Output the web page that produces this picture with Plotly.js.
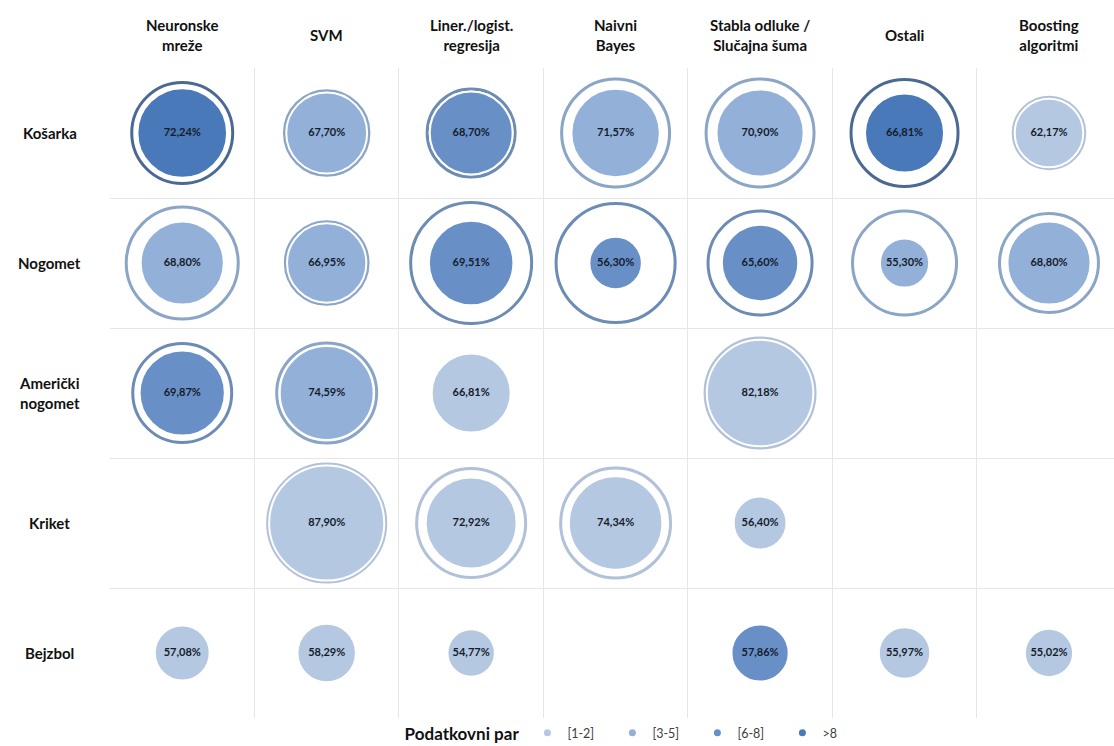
<!DOCTYPE html>
<html>
<head>
<meta charset="utf-8">
<script src="https://cdn.plot.ly/plotly-3.0.1.min.js"></script>
<style>
  html, body { margin: 0; padding: 0; background: #ffffff; }
  #chart { width: 1114px; height: 746px; }
</style>
</head>
<body>
<div id="chart"></div>
<script>
// ---- Data ----
const algoritmi = ['Neuronske<br>mreže', 'SVM', 'Liner./logist.<br>regresija', 'Naivni<br>Bayes',
                   'Stabla odluke /<br>Slučajna šuma', 'Ostali', 'Boosting<br>algoritmi'];
const sportovi = ['Košarka', 'Nogomet', 'Američki<br>nogomet', 'Kriket', 'Bejzbol'];
const klase = ['[1-2]', '[3-5]', '[6-8]', '>8'];

// mean accuracy (%) per sport, by algorithm (null = no study)
const tocnostKosarka  = [72.24, 67.70, 68.70, 71.57, 70.90, 66.81, 62.17];
const tocnostNogomet  = [68.80, 66.95, 69.51, 56.30, 65.60, 55.30, 68.80];
const tocnostAmericki = [69.87, 74.59, 66.81, null, 82.18, null, null];
const tocnostKriket   = [null, 87.90, 72.92, 74.34, 56.40, null, null];
const tocnostBejzbol  = [57.08, 58.29, 54.77, null, 57.86, 55.97, 55.02];

// dataset-pair class per cell
const parKosarka  = ['>8', '[3-5]', '[6-8]', '[3-5]', '[3-5]', '>8', '[1-2]'];
const parNogomet  = ['[3-5]', '[3-5]', '[6-8]', '[6-8]', '[6-8]', '[3-5]', '[3-5]'];
const parAmericki = ['[6-8]', '[3-5]', '[1-2]', null, '[1-2]', null, null];
const parKriket   = [null, '[1-2]', '[1-2]', '[1-2]', '[1-2]', null, null];
const parBejzbol  = ['[1-2]', '[1-2]', '[1-2]', null, '[6-8]', '[1-2]', '[1-2]'];

// outer ring value (%) per cell (estimated from ring size; null = no ring)
const krugKosarka  = [78.7, 69.5, 71.3, 83.1, 83.1, 82.5, 63.4];
const krugNogomet  = [85.8, 68.6, 92.1, 90.7, 80.6, 80.6, 77.5];
const krugAmericki = [77.5, 78.1, null, null, 84.4, null, null];
const krugKriket   = [null, 90.0, 83.8, 84.4, null, null, null];
const krugBejzbol  = [null, null, null, null, null, null, null];

// ---- Styles ----
const fillBoje = ['#b4c8e2', '#92b0d8', '#6890c7', '#4a79b9'];
const prstenBoje = ['#b0c1d8', '#8ba5c6', '#6c8cb4', '#4b6a93'];
const FONT = 'Lato, "Open Sans", sans-serif';
const BASE = 48;          // size baseline (%)
const SIZEREF = 0.006024; // area scaling

const tocnost = [tocnostKosarka, tocnostNogomet, tocnostAmericki, tocnostKriket, tocnostBejzbol];
const parovi  = [parKosarka, parNogomet, parAmericki, parKriket, parBejzbol];
const krugovi = [krugKosarka, krugNogomet, krugAmericki, krugKriket, krugBejzbol];

const inner = {x: [], y: [], s: [], c: [], t: []};
const ring = {x: [], y: [], s: [], c: []};
sportovi.forEach((sp, r) => {
  algoritmi.forEach((al, c) => {
    const v = tocnost[r][c];
    if (v === null) return;
    const k = klase.indexOf(parovi[r][c]);
    inner.x.push(c); inner.y.push(r);
    inner.s.push(v - BASE);
    inner.c.push(fillBoje[k]);
    inner.t.push(v.toFixed(2).replace('.', ',') + '%');
    const g = krugovi[r][c];
    if (g !== null) {
      ring.x.push(c); ring.y.push(r);
      ring.s.push(g - BASE);
      ring.c.push(prstenBoje[k]);
    }
  });
});

const traces = [
  {
    type: 'scatter', mode: 'markers', x: ring.x, y: ring.y, showlegend: false, hoverinfo: 'skip',
    cliponaxis: false,
    marker: {symbol: 'circle-open', size: ring.s, sizemode: 'area', sizeref: SIZEREF,
             color: ring.c, opacity: 1, line: {width: 3}}
  },
  {
    type: 'scatter', mode: 'markers+text', x: inner.x, y: inner.y, showlegend: false,
    cliponaxis: false,
    text: inner.t, textposition: 'middle center',
    textfont: {family: FONT, size: 11, color: '#141c2b', weight: 'bold'},
    marker: {symbol: 'circle', size: inner.s, sizemode: 'area', sizeref: SIZEREF,
             color: inner.c, opacity: 1, line: {color: '#ffffff', width: 2}}
  }
];
klase.forEach((k, i) => {
  traces.push({
    type: 'scatter', mode: 'markers', x: [null], y: [null], name: k,
    marker: {size: 7, color: fillBoje[i], opacity: 1}, showlegend: true
  });
});

const annotations = [];
algoritmi.forEach((a, i) => {
  annotations.push({
    text: a, xref: 'x', yref: 'paper', x: i, y: 1.0508,
    xanchor: 'center', yanchor: 'middle', showarrow: false, align: 'center',
    font: {family: FONT, size: 15, color: '#111111', weight: 'bold'}
  });
});
sportovi.forEach((s, i) => {
  annotations.push({
    text: s, xref: 'paper', yref: 'y', x: -0.0598, y: i,
    xanchor: 'center', yanchor: 'middle', showarrow: false, align: 'center',
    font: {family: FONT, size: 15, color: '#111111', weight: 'bold'}
  });
});

const layout = {
  width: 1114, height: 746,
  margin: {l: 110, r: 0, t: 68, b: 28, autoexpand: false},
  paper_bgcolor: '#ffffff', plot_bgcolor: '#ffffff',
  font: {family: FONT, color: '#333333'},
  xaxis: {
    range: [-0.5, 6.45], tickvals: [0.5, 1.5, 2.5, 3.5, 4.5, 5.5],
    showticklabels: false, ticks: '', showgrid: true, gridcolor: '#e6e6e6', gridwidth: 1,
    zeroline: false, showline: false, fixedrange: true
  },
  yaxis: {
    range: [4.5, -0.5], tickvals: [0.5, 1.5, 2.5, 3.5],
    showticklabels: false, ticks: '', showgrid: true, gridcolor: '#e6e6e6', gridwidth: 1,
    zeroline: false, showline: false, fixedrange: true
  },
  showlegend: true,
  legend: {
    orientation: 'h', x: 0.523, xanchor: 'center', y: 0.0, yanchor: 'top',
    font: {family: FONT, size: 12.5, color: '#404040'},
    title: {text: 'Podatkovni par', side: 'left',
            font: {family: FONT, size: 17, color: '#111111', weight: 'bold'}},
    itemwidth: 30, entrywidth: 40, bgcolor: 'rgba(0,0,0,0)'
  },
  annotations: annotations
};

Plotly.newPlot('chart', traces, layout, {displayModeBar: false, staticPlot: true});
</script>
</body>
</html>
